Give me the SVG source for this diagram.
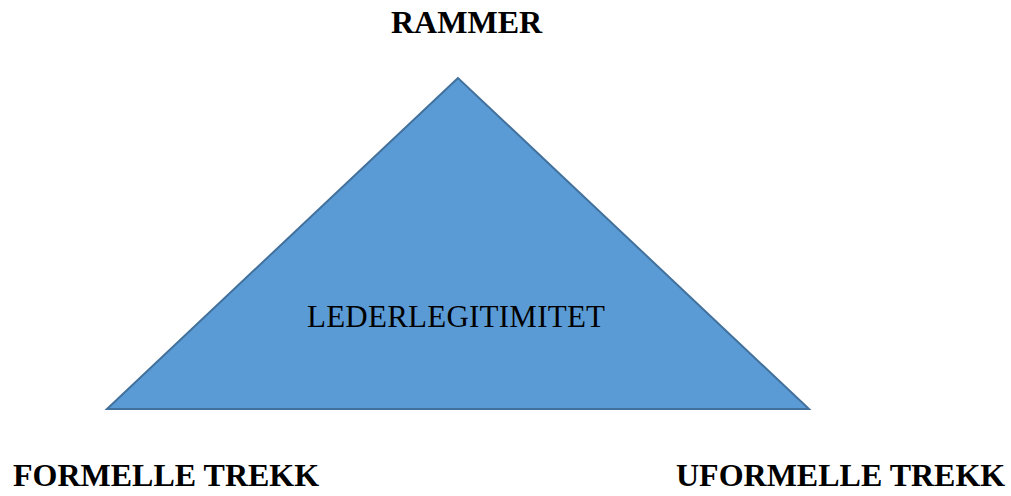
<svg xmlns="http://www.w3.org/2000/svg" width="1011" height="496" viewBox="0 0 1011 496">
<style>
.lbl{font-family:"Liberation Serif","Times New Roman",serif;font-size:32px;font-weight:bold;fill:#000}
.inner{font-family:"Liberation Serif","Times New Roman",serif;font-size:31px;fill:#000}
</style>
<rect width="1011" height="496" fill="#fff"/>
<g id="triangle">
<polygon points="458,78 107,409 809,409" fill="#5B9BD5" stroke="#41719C" stroke-width="2"/>
<text class="inner" x="307" y="327" textLength="298">LEDERLEGITIMITET</text>
</g>
<g id="rammer"><text class="lbl" x="391" y="33">RAMMER</text></g>
<g id="formelle"><text class="lbl" x="13" y="486">FORMELLE TREKK</text></g>
<g id="uformelle"><text class="lbl" x="676" y="486">UFORMELLE TREKK</text></g>
<g id="connectors"></g>
</svg>
